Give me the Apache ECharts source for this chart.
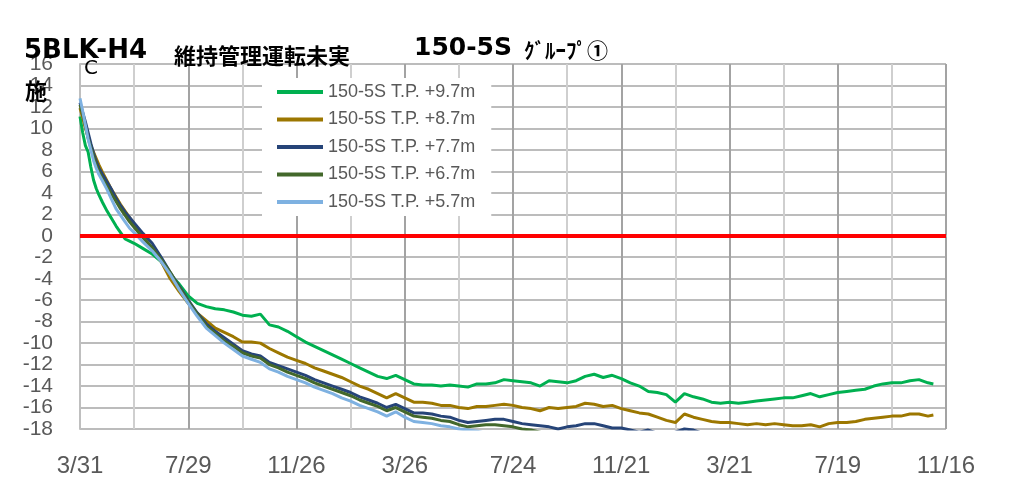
<!DOCTYPE html>
<html>
<head>
<meta charset="utf-8">
<script src="https://cdn.jsdelivr.net/npm/echarts/dist/echarts.min.js"></script>
<style>
  html, body { margin: 0; padding: 0; background: #fff; }
  #main { width: 1018px; height: 495px; }
</style>
</head>
<body>
<div id="main"></div>
<script>
// days since 3/31 (sample points)
var days = [0, 3, 6, 9, 12, 15, 18, 21, 25, 30, 35, 40, 45, 50, 55, 60,
  70, 80, 90, 100, 110, 120, 130, 140, 150, 160,
  170, 180, 190, 200, 210, 220, 230, 240, 250, 260,
  270, 280, 290, 300, 310, 320, 330, 340, 350, 360,
  370, 380, 390, 400, 410, 420, 430, 440, 450, 460,
  470, 480, 490, 500, 510, 520, 530, 540, 550, 560,
  570, 580, 590, 600, 610, 620, 630, 640, 650, 660,
  670, 680, 690, 700, 710, 720, 730, 740, 750, 760,
  770, 780, 790, 800, 810, 820, 830, 840, 850, 860,
  870, 880, 890, 900, 910, 920, 930, 940, 946];

var xLabels = ['3/31', '7/29', '11/26', '3/26', '7/24', '11/21', '3/21', '7/19', '11/16'];

var names = ['150-5S T.P. +9.7m', '150-5S T.P. +8.7m', '150-5S T.P. +7.7m', '150-5S T.P. +6.7m', '150-5S T.P. +5.7m'];
var colors = ['#00b050', '#9c7700', '#264478', '#43682b', '#7eb1e1'];

var tp97 = [11.1, 9.6, 8.4, 7.8, 6.4, 5.2, 4.4, 3.8, 3.1, 2.3, 1.6, 0.9, 0.3, -0.3, -0.5, -0.7,
  -1.2, -1.7, -2.4, -3.6, -4.5, -5.6, -6.3, -6.6, -6.8, -6.9,
  -7.1, -7.4, -7.5, -7.3, -8.3, -8.5, -8.9, -9.4, -9.9, -10.3,
  -10.7, -11.1, -11.5, -11.9, -12.3, -12.7, -13.1, -13.3, -13.0, -13.4,
  -13.8, -13.9, -13.9, -14.0, -13.9, -14.0, -14.1, -13.8, -13.8, -13.7,
  -13.4, -13.5, -13.6, -13.7, -14.0, -13.5, -13.6, -13.7, -13.5, -13.1,
  -12.9, -13.2, -13.0, -13.3, -13.7, -14.0, -14.5, -14.6, -14.8, -15.5,
  -14.7, -15.0, -15.2, -15.5, -15.6, -15.5, -15.6, -15.5, -15.4, -15.3,
  -15.2, -15.1, -15.1, -14.9, -14.7, -15.0, -14.8, -14.6, -14.5, -14.4,
  -14.3, -14.0, -13.8, -13.7, -13.7, -13.5, -13.4, -13.7, -13.8];

var tp87 = [11.9, 11.0, 10.0, 9.2, 8.4, 7.8, 7.2, 6.6, 5.9, 5.1, 4.3, 3.6, 2.9, 2.3, 1.7, 1.1,
  -0.1, -1.2, -2.4, -4.0, -5.2, -6.3, -7.2, -7.9, -8.6, -9.0,
  -9.4, -9.9, -9.9, -10.0, -10.5, -10.9, -11.3, -11.6, -11.9, -12.3,
  -12.6, -12.9, -13.2, -13.6, -14.0, -14.3, -14.7, -15.1, -14.7, -15.1,
  -15.5, -15.5, -15.6, -15.8, -15.8, -16.0, -16.1, -15.9, -15.9, -15.8,
  -15.7, -15.8, -16.0, -16.1, -16.3, -16.0, -16.1, -16.0, -15.9, -15.6,
  -15.7, -15.9, -15.8, -16.1, -16.3, -16.5, -16.6, -16.9, -17.2, -17.4,
  -16.6, -16.9, -17.1, -17.3, -17.4, -17.4, -17.5, -17.6, -17.5, -17.6,
  -17.5, -17.6, -17.7, -17.7, -17.6, -17.8, -17.5, -17.4, -17.4, -17.3,
  -17.1, -17.0, -16.9, -16.8, -16.8, -16.6, -16.6, -16.8, -16.7];

var tp77 = [12.4, 11.5, 10.6, 9.6, 8.6, 7.7, 6.9, 6.3, 5.7, 5.0, 4.3, 3.5, 2.8, 2.2, 1.7, 1.2,
  0.2, -0.7, -2.0, -3.4, -4.7, -6.0, -7.2, -8.2, -8.9, -9.5,
  -10.1, -10.7, -11.0, -11.2, -11.8, -12.1, -12.4, -12.7, -13.0, -13.4,
  -13.7, -14.0, -14.3, -14.6, -15.0, -15.3, -15.6, -16.0, -15.7, -16.1,
  -16.5, -16.5, -16.6, -16.8, -16.9, -17.2, -17.4, -17.3, -17.2, -17.1,
  -17.1, -17.3, -17.5, -17.6, -17.7, -17.8, -18.0, -17.8, -17.7, -17.5,
  -17.5, -17.7, -17.9, -17.9, -18.1, -18.3, -18.1, -18.4, -18.6, -18.3,
  -18.0, -18.1, -18.4, -18.7, -18.9, -19.0];

var tp67 = [12.2, 11.3, 10.2, 9.1, 8.2, 7.4, 6.6, 6.0, 5.3, 4.6, 3.9, 3.2, 2.5, 1.9, 1.3, 0.8,
  -0.2, -1.1, -2.2, -3.4, -4.8, -6.1, -7.3, -8.4, -9.1, -9.8,
  -10.3, -10.9, -11.2, -11.4, -12.0, -12.3, -12.7, -13.0, -13.3, -13.7,
  -14.0, -14.3, -14.6, -14.9, -15.3, -15.6, -15.9, -16.3, -16.0, -16.4,
  -16.8, -16.9, -17.0, -17.2, -17.3, -17.6, -17.8, -17.7, -17.6, -17.6,
  -17.7, -17.8, -18.0, -18.1, -18.3, -18.5, -18.7];

var tp57 = [12.8, 11.6, 10.3, 9.0, 8.0, 7.0, 6.3, 5.7, 5.1, 4.3, 3.4, 2.5, 1.9, 1.3, 0.7, 0.3,
  -0.6, -1.4, -2.4, -3.6, -5.0, -6.3, -7.5, -8.6, -9.3, -10.0,
  -10.6, -11.2, -11.5, -11.8, -12.4, -12.7, -13.1, -13.4, -13.7, -14.1,
  -14.4, -14.7, -15.1, -15.4, -15.8, -16.1, -16.4, -16.8, -16.4, -16.9,
  -17.3, -17.4, -17.5, -17.7, -17.8, -18.0, -18.1, -18.2, -18.4, -18.6];

var allValues = [tp97, tp87, tp77, tp67, tp57];

function pairs(vals) {
  return vals.map(function (v, i) { return [days[i], v]; });
}

var myChart = echarts.init(document.getElementById('main'));

var series = allValues.map(function (vals, k) {
  return {
    name: names[k],
    type: 'line',
    data: pairs(vals),
    symbol: 'none',
    color: colors[k],
    lineStyle: { width: 3, color: colors[k] }
  };
});

// red zero line on top
series[4].markLine = {
  silent: true,
  symbol: 'none',
  label: { show: false },
  lineStyle: { color: '#ff0000', width: 4, type: 'solid' },
  data: [{ yAxis: 0 }]
};

var option = {
  animation: false,
  backgroundColor: '#fff',
  title: [
    { text: '5BLK-H4', left: 24, top: 38, padding: 0,
      textStyle: { fontSize: 26, fontWeight: 'bold', color: '#000', fontFamily: 'DejaVu Sans' } },
    { text: '維持管理運転未実', left: 174, top: 45, padding: 0,
      textStyle: { fontSize: 22, fontWeight: 'bold', color: '#000', fontFamily: 'Noto Sans CJK JP' } },
    { text: '施', left: 25, top: 80, padding: 0,
      textStyle: { fontSize: 22, fontWeight: 'bold', color: '#000', fontFamily: 'Noto Sans CJK JP' } },
    { text: 'C', left: 84, top: 59, padding: 0,
      textStyle: { fontSize: 20, fontWeight: 'normal', color: '#000', fontFamily: 'DejaVu Sans' } },
    { text: '150-5S', left: 414, top: 36, padding: 0,
      textStyle: { fontSize: 25, fontWeight: 'bold', color: '#000', fontFamily: 'DejaVu Sans' } },
    { text: 'ｸﾞﾙｰﾌﾟ①', left: 524, top: 40, padding: 0,
      textStyle: { fontSize: 21, fontWeight: 'bold', color: '#000', fontFamily: 'Noto Sans CJK JP' } }
  ],
  legend: {
    orient: 'vertical',
    left: 262,
    top: 78,
    padding: [5, 16, 5, 15],
    backgroundColor: '#fff',
    icon: 'path://M0,0h46v4h-46z',
    itemWidth: 46,
    itemHeight: 14,
    itemGap: 9.5,
    textStyle: { fontSize: 18, color: '#595959', fontFamily: 'Liberation Sans' },
    data: names
  },
  grid: { left: 80, right: 72, top: 64, bottom: 66 },
  xAxis: {
    type: 'value',
    min: 0,
    max: 960,
    interval: 120,
    axisLine: { lineStyle: { color: '#bfbfbf', width: 2 } },
    axisTick: { show: false },
    axisLabel: {
      margin: 25,
      fontSize: 24,
      color: '#595959',
      fontFamily: 'Liberation Sans',
      formatter: function (v) { return xLabels[Math.round(v / 120)] || ''; }
    },
    splitLine: { show: true, lineStyle: { color: '#a3a3a3', width: 2 } },
    minorTick: { show: false, splitNumber: 2 },
    minorSplitLine: { show: true, lineStyle: { color: '#cfcfcf', width: 2 } }
  },
  yAxis: {
    type: 'value',
    min: -18,
    max: 16,
    interval: 2,
    axisLine: { show: true, lineStyle: { color: '#bfbfbf', width: 2 } },
    axisTick: { show: false },
    axisLabel: { margin: 27, fontSize: 21, color: '#595959', fontFamily: 'Liberation Sans' },
    splitLine: { lineStyle: { color: '#bcbcbc', width: 2 } }
  },
  series: series
};

myChart.setOption(option);
</script>
</body>
</html>
